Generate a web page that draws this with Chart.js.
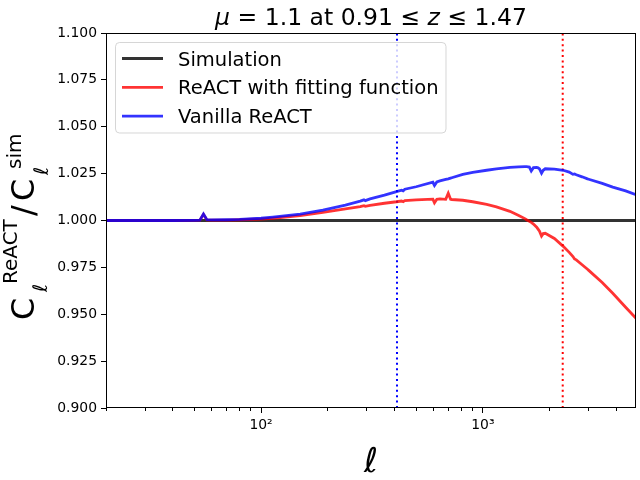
<!DOCTYPE html>
<html lang="en">
<head>
<meta charset="UTF-8">
<title>ReACT ratio</title>
<script src="https://cdn.jsdelivr.net/npm/chart.js@4.4.1/dist/chart.umd.min.js"></script>
<style>
html, body { margin: 0; padding: 0; background: #fff; }
</style>
</head>
<body>
<canvas id="chart" width="640" height="480"></canvas>
<script>
// multipoles and ratios
const ell = [20, 30, 40, 50, 53, 55, 57, 60, 70, 80, 100, 113, 150, 190, 240, 280, 291, 295, 310, 360,
    408, 430, 437, 445, 500, 595, 605, 620, 640, 680, 698, 715, 724, 812, 900, 1040, 1151, 1324, 1450, 1546,
    1573, 1620, 1652, 1690, 1748, 1773, 1800, 1838, 1870, 1910, 2100, 2302, 2450, 2547, 2590, 2636, 2800, 2962,
    3000, 3450, 3850, 4400, 4900];
const simulation = ell.map(() => 1.0);
const fittingFunction = [1.0000, 1.0000, 1.0000, 1.0001, 1.0002, 1.0033, 1.0003, 1.0002, 1.0002, 1.0004,
    1.0008, 1.0012, 1.0026, 1.0043, 1.0062, 1.0074, 1.0079, 1.0076, 1.0081, 1.0092,
    1.0100, 1.0104, 1.0100, 1.0106, 1.0110, 1.0114, 1.0094, 1.0113, 1.0115, 1.0113,
    1.0145, 1.0113, 1.0112, 1.0108, 1.0100, 1.0086, 1.0073, 1.0049, 1.0027, 1.0010,
    1.0004, 0.9996, 0.9990, 0.9981, 0.9964, 0.9954, 0.9943, 0.9917, 0.9930, 0.9932,
    0.9904, 0.9862, 0.9830, 0.9808, 0.9795, 0.9790, 0.9764, 0.9740, 0.9734, 0.9669,
    0.9612, 0.9537, 0.9478];
const vanillaReact = [1.0000, 1.0000, 1.0000, 1.0001, 1.0002, 1.0035, 1.0004, 1.0003, 1.0004, 1.0006,
    1.0012, 1.0018, 1.0034, 1.0055, 1.0082, 1.0103, 1.0110, 1.0106, 1.0115, 1.0135,
    1.0154, 1.0162, 1.0158, 1.0167, 1.0180, 1.0204, 1.0187, 1.0206, 1.0211, 1.0219,
    1.0222, 1.0226, 1.0228, 1.0246, 1.0257, 1.0268, 1.0275, 1.0283, 1.0286, 1.0287,
    1.0287, 1.0285, 1.0264, 1.0282, 1.0283, 1.0281, 1.0275, 1.0252, 1.0268, 1.0276,
    1.0274, 1.0268, 1.0258, 1.0246, 1.0248, 1.0244, 1.0233, 1.0222, 1.0220, 1.0198,
    1.0178, 1.0158, 1.0138];

// scale cuts (dotted verticals)
const cutVanilla = 410;
const cutFitting = 2290;

const xMin = 20, xMax = 4900;
const yMin = 0.9, yMax = 1.1;
const yTicks = [0.9, 0.925, 0.95, 0.975, 1.0, 1.025, 1.05, 1.075, 1.1];
const xMajor = [100, 1000];
const xMinor = [20, 30, 40, 50, 60, 70, 80, 90, 200, 300, 400, 500, 600, 700, 800, 900, 2000, 3000, 4000];

const FONT = 'DejaVu Sans';

function pts(ys) {
    return ell.map((l, i) => ({ x: l, y: ys[i] }));
}

function vline(x) {
    return [{ x: x, y: yMin }, { x: x, y: yMax }];
}

const decor = {
    id: 'decor',
    afterDraw(chart) {
        const ctx = chart.ctx;
        const a = chart.chartArea;
        ctx.save();

        // frame
        ctx.strokeStyle = '#000';
        ctx.lineWidth = 1;
        ctx.strokeRect(a.left + 0.5, a.top + 0.5, a.right - a.left - 1, a.bottom - a.top - 1);

        // legend
        const lx = 115.5, ly = 42.5, lw = 330.5, lh = 90.5, r = 4;
        ctx.beginPath();
        ctx.moveTo(lx + r, ly);
        ctx.arcTo(lx + lw, ly, lx + lw, ly + lh, r);
        ctx.arcTo(lx + lw, ly + lh, lx, ly + lh, r);
        ctx.arcTo(lx, ly + lh, lx, ly, r);
        ctx.arcTo(lx, ly, lx + lw, ly, r);
        ctx.closePath();
        ctx.fillStyle = 'rgba(255,255,255,0.8)';
        ctx.fill();
        ctx.strokeStyle = 'rgba(204,204,204,0.8)';
        ctx.stroke();

        const items = chart.data.datasets.filter(d => d.inLegend);
        ctx.font = '19.5px ' + FONT;
        ctx.textBaseline = 'alphabetic';
        ctx.textAlign = 'left';
        items.forEach((d, i) => {
            const y = 58.5 + i * 28.8;
            ctx.beginPath();
            ctx.moveTo(122, y);
            ctx.lineTo(163, y);
            ctx.strokeStyle = d.borderColor;
            ctx.lineWidth = d.borderWidth;
            ctx.stroke();
            ctx.fillStyle = '#000';
            ctx.fillText(d.label, 178, y + 7);
        });

        // title
        const parts = [['μ', true], [' = 1.1 at 0.91 ≤ ', false], ['z', true], [' ≤ 1.47', false]];
        const tf = it => (it ? 'italic ' : '') + '23.5px ' + FONT;
        let total = 0;
        parts.forEach(p => { ctx.font = tf(p[1]); total += ctx.measureText(p[0]).width; });
        let tx = (a.left + a.right) / 2 - total / 2;
        ctx.fillStyle = '#000';
        parts.forEach(p => {
            ctx.font = tf(p[1]);
            ctx.fillText(p[0], tx, 25);
            tx += ctx.measureText(p[0]).width;
        });

        // x label
        ctx.font = 'italic 34px ' + FONT;
        ctx.textAlign = 'center';
        ctx.fillText('ℓ', (a.left + a.right) / 2, 472);

        // y label, rotated
        ctx.translate(34, 320);
        ctx.rotate(-Math.PI / 2);
        ctx.textAlign = 'left';
        ctx.font = '32px ' + FONT;
        ctx.fillText('C', 0, 0);
        ctx.font = '20px ' + FONT;
        ctx.fillText('ReACT', 36, -17);
        ctx.font = 'italic 20px ' + FONT;
        ctx.fillText('ℓ', 28, 13);
        ctx.font = '32px ' + FONT;
        ctx.fillText('/', 104, 0);
        ctx.fillText('C', 119, 0);
        ctx.font = '20px ' + FONT;
        ctx.fillText('sim', 151, -13);
        ctx.font = 'italic 20px ' + FONT;
        ctx.fillText('ℓ', 145, 14);
        ctx.restore();
    }
};

const chart = new Chart(document.getElementById('chart'), {
    type: 'line',
    data: {
        datasets: [
            { data: vline(cutVanilla), borderColor: '#0000ff', borderWidth: 2, borderDash: [2, 3.4], pointRadius: 0, order: 5 },
            { data: vline(cutFitting), borderColor: '#ff0000', borderWidth: 2, borderDash: [2, 3.4], pointRadius: 0, order: 4 },
            { label: 'Simulation', inLegend: true, data: pts(simulation), borderColor: 'rgba(0,0,0,0.8)', borderWidth: 3, pointRadius: 0, order: 3 },
            { label: 'ReACT with fitting function', inLegend: true, data: pts(fittingFunction), borderColor: 'rgba(255,0,0,0.8)', borderWidth: 2.8, pointRadius: 0, order: 2 },
            { label: 'Vanilla ReACT', inLegend: true, data: pts(vanillaReact), borderColor: 'rgba(0,0,255,0.8)', borderWidth: 2.8, pointRadius: 0, order: 1 }
        ]
    },
    options: {
        responsive: false,
        animation: false,
        layout: { padding: { top: 33, right: 4, left: 0, bottom: 0 } },
        plugins: { legend: { display: false }, tooltip: { enabled: false }, title: { display: false } },
        scales: {
            x: {
                type: 'logarithmic',
                min: xMin,
                max: xMax,
                afterBuildTicks: scale => {
                    scale.ticks = xMinor.concat(xMajor).sort((p, q) => p - q).map(v => ({ value: v, major: xMajor.includes(v) }));
                },
                afterFit: scale => { scale.height = 72; },
                border: { display: false },
                grid: {
                    drawOnChartArea: false,
                    drawTicks: true,
                    tickLength: 5,
                    tickColor: '#000',
                    tickWidth: 1,
                    tickBorderDash: c => (c.tick && xMajor.includes(c.tick.value)) ? [] : [3, 20]
                },
                ticks: {
                    autoSkip: false,
                    maxRotation: 0,
                    padding: 4,
                    color: '#000',
                    font: { family: FONT, size: 13.9 },
                    callback: v => v === 100 ? '10²' : (v === 1000 ? '10³' : '')
                }
            },
            y: {
                type: 'linear',
                min: yMin,
                max: yMax,
                afterBuildTicks: scale => { scale.ticks = yTicks.map(v => ({ value: v })); },
                afterFit: scale => { scale.width = 106; },
                border: { display: false },
                grid: { drawOnChartArea: false, drawTicks: true, tickLength: 5, tickColor: '#000', tickWidth: 1 },
                ticks: {
                    padding: 4,
                    color: '#000',
                    font: { family: FONT, size: 13.9 },
                    callback: v => v.toFixed(3)
                }
            }
        }
    },
    plugins: [decor]
});
</script>
</body>
</html>
